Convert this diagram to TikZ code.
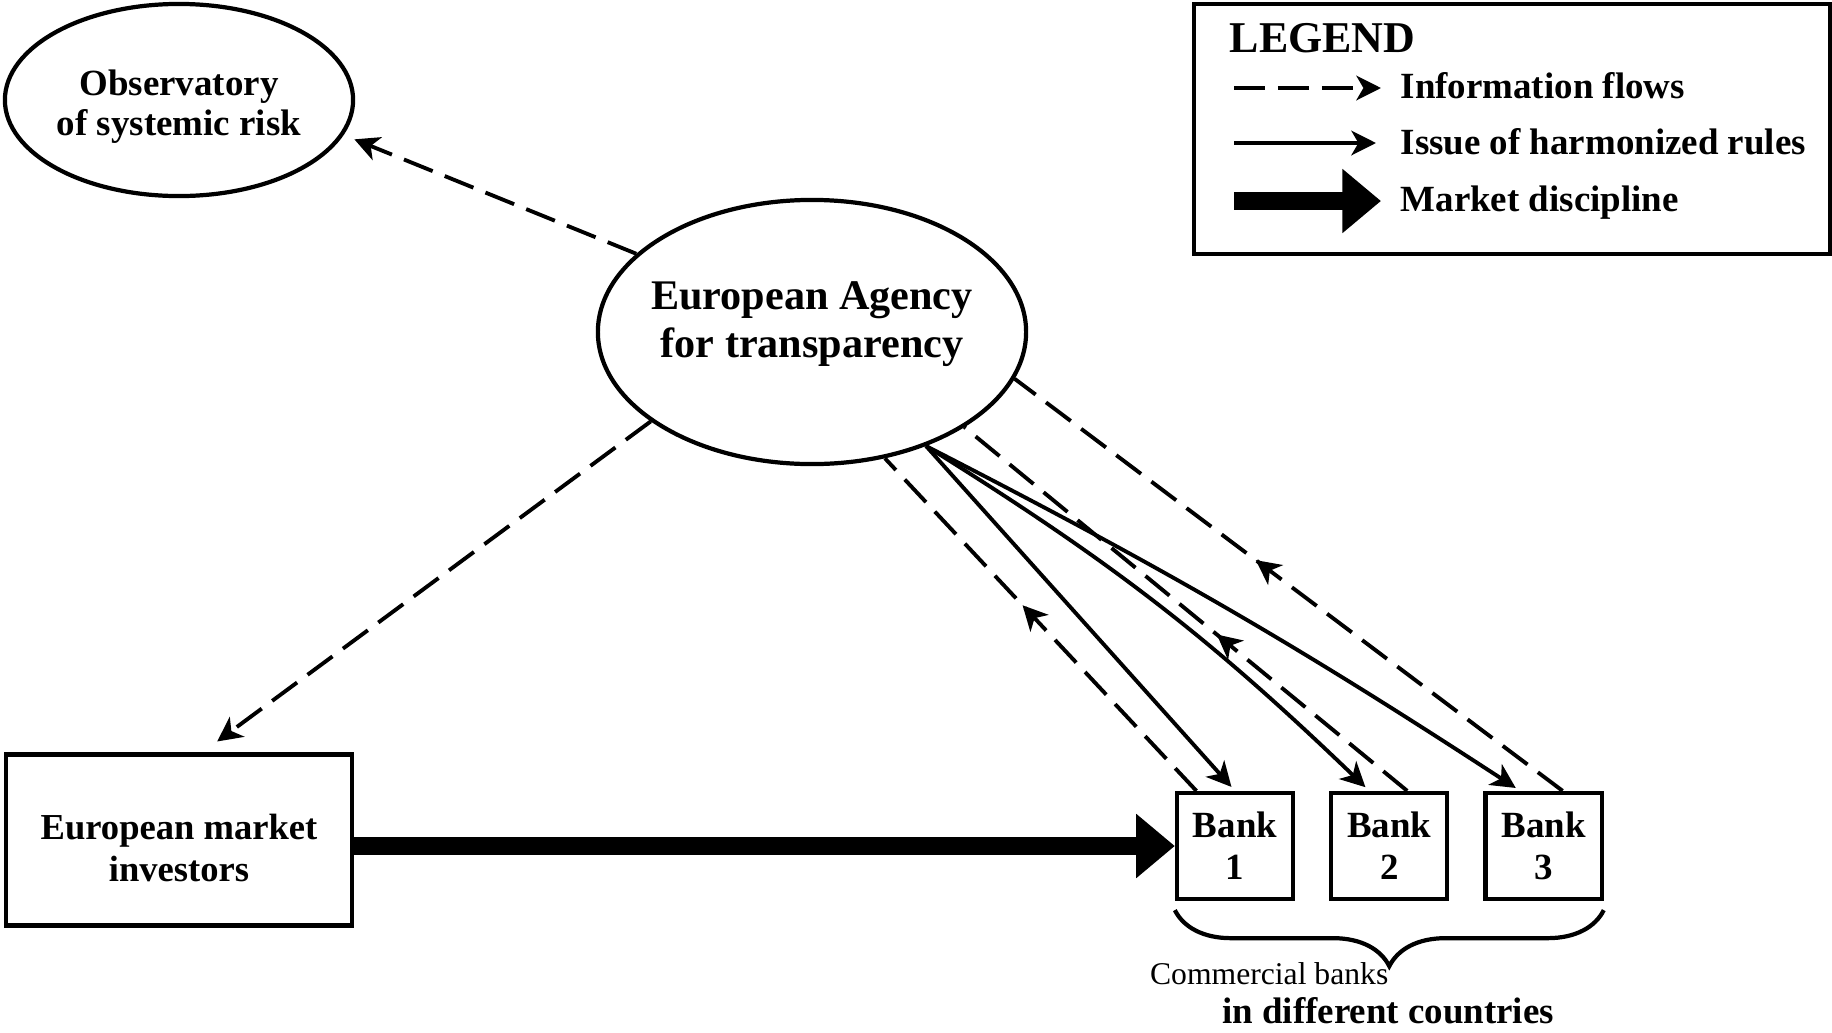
\documentclass[tikz,border=0pt]{standalone}
\usepackage{fontspec}
\setmainfont{Liberation Serif}
\usetikzlibrary{arrows.meta,positioning,shapes.geometric,decorations.pathreplacing,decorations.markings}

\begin{document}
\begin{tikzpicture}[x=0.01cm, y=-0.01cm,
  every node/.style={font=\bfseries},
  oval/.style={draw, ellipse, line width=1.2pt, inner sep=0pt, align=center},
  panel/.style={draw, rectangle, line width=1.2pt, inner sep=0pt, align=center},
  bankbox/.style={panel, minimum width=1.16cm, minimum height=1.06cm,
    font=\fontsize{10.5}{12}\selectfont\bfseries},
  lbl/.style={inner sep=0pt, anchor=base west, font=\fontsize{10.5}{12}\selectfont\bfseries},
  flow/.style={line width=1.1pt, dash pattern=on 8.8pt off 3.7pt,
    -{Stealth[length=7pt, width=7pt, inset=2pt]}},
  flowmid/.style={line width=1.1pt, dash pattern=on 8.8pt off 3.7pt,
    postaction={decorate}, decoration={markings,
    mark=at position #1 with {\arrow{Stealth[length=7pt, width=7pt, inset=2pt]}}}},
  issue/.style={line width=1.1pt, -{Stealth[length=7pt, width=7pt, inset=2pt]}},
  discipline/.style={line width=5.1pt, -{Triangle[length=11pt, width=17.6pt]}}
]
  \useasboundingbox (0,0) rectangle (1832,1033);

  % main nodes
  \node[oval, minimum width=3.48cm, minimum height=1.92cm,
    font=\fontsize{10.5}{11.4}\selectfont\bfseries] (obs) at (179,100)
    {\rule{0pt}{11.2pt}Observatory\\of systemic risk};
  \node[oval, minimum width=4.28cm, minimum height=2.64cm, inner xsep=-2.8pt,
    font=\fontsize{12}{13.7}\selectfont\bfseries] (agency) at (812,332)
    {European Agency\\for transparency\rule[-7.2pt]{0pt}{0pt}};
  \node[panel, minimum width=3.46cm, minimum height=1.71cm,
    font=\fontsize{10.4}{12}\selectfont\bfseries] (investors) at (179,840)
    {\rule{0pt}{11.7pt}European market\\investors};

  % banks
  \node[bankbox] (bank1) at (1235,846) {Bank\\1};
  \node[bankbox, right=0.34cm of bank1] (bank2) {Bank\\2};
  \node[bankbox, right=0.34cm of bank2] (bank3) {Bank\\3};

  % information flows
  \draw[flow, shorten >=3.3pt] (agency.156) -- (obs.-12);
  \draw[flow, shorten >=5.2pt] (agency.209) -- (investors.75);
  \draw[flowmid=0.56] (bank1.125) -- (agency.-60);
  \draw[flowmid=0.43] (bank2.72) -- (agency.-32);
  \draw[flowmid=0.56] (bank3.71) -- (agency.-13);

  % harmonized rules
  \draw[issue, shorten >=1.5pt] (agency.-45) -- (bank1.north);
  \draw[issue, shorten >=1.5pt] (agency.-45) to[bend left=6] (bank2.110);
  \draw[issue, shorten >=1.5pt] (agency.-45) to[bend left=3] (bank3.113);

  % market discipline
  \draw[discipline] (investors.east |- bank1.west) -- (bank1.west);

  % brace under the banks
  \draw[line width=1.2pt, decorate, decoration={brace, mirror, amplitude=0.56cm}]
    ([yshift=-0.09cm]bank1.south west) -- ([yshift=-0.09cm]bank3.south east);
  \node[inner sep=0pt, anchor=base east, font=\fontsize{9}{10}\selectfont]
    (commercial) at (1389,984) {Commercial banks};
  \node[inner sep=0pt, anchor=base, font=\fontsize{10.5}{12}\selectfont\bfseries]
    (countries) at (1388,1023) {in different countries};

  % legend
  \def\xa{1234}
  \def\xt{1400}
  \node[panel, minimum width=6.36cm, minimum height=2.5cm] (legend) at (1512,129) {};
  \node[lbl, font=\fontsize{12.5}{14}\selectfont\bfseries] (legendtitle) at (1229,52) {LEGEND};

  \coordinate (fa) at (\xa,88);
  \coordinate (fb) at (1381,88);
  \draw[flow] (fa) -- (fb);
  \node[lbl] (flowtext) at (\xt,98) {Information flows};

  \coordinate (ia) at (\xa,143);
  \coordinate (ib) at (1376,143);
  \draw[issue] (ia) -- (ib);
  \node[lbl] (issuetext) at (\xt,154) {Issue of harmonized rules};

  \coordinate (ma) at (\xa,201);
  \coordinate (mb) at (1381,201);
  \draw[discipline] (ma) -- (mb);
  \node[lbl] (markettext) at (\xt,211) {Market discipline};

\end{tikzpicture}
\end{document}
